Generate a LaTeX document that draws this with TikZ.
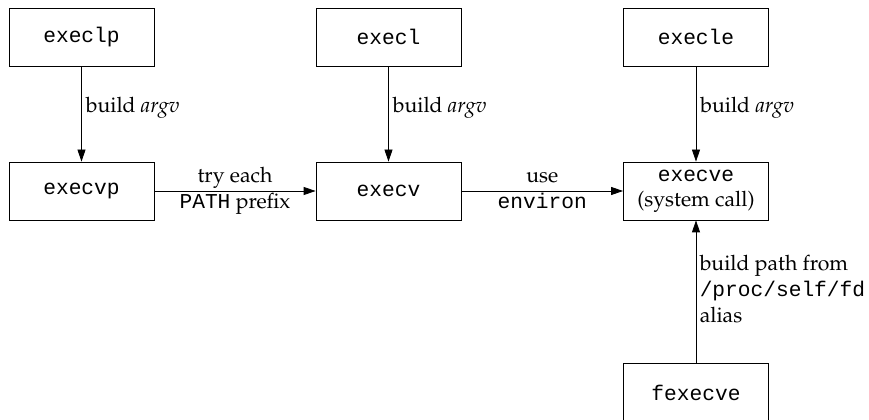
\documentclass[tikz,border=0pt]{standalone}
\usepackage{fontspec}
\usepackage[T1]{fontenc}
\usepackage{mathpazo}
\newfontfamily\codefont{Liberation Mono}
\usetikzlibrary{arrows.meta}
\usetikzlibrary{positioning}

\tikzset{
	fnbox/.style={draw, line width=0.6pt, minimum width=108.75pt, minimum height=43.5pt, inner sep=0pt, font=\fontsize{15.9}{19.5}\codefont},
	callarrow/.style={line width=0.6pt, -{Triangle[length=9pt,width=6pt]}},
	uplbl/.style={anchor=base, inner sep=0pt, yshift=6pt},
	lowlbl/.style={anchor=base, inner sep=0pt, yshift=-12.8pt},
	sidelbl/.style={anchor=base west, inner sep=0pt, xshift=3pt, yshift=0.75pt},
	noteline/.style={anchor=base west, inner sep=0pt}
}
\newcommand{\code}[1]{{\codefont #1}}

\begin{document}
\begin{tikzpicture}[x=0.75pt,y=-0.75pt,font=\fontsize{15.9}{19.5}\selectfont]
	\useasboundingbox (0,0) rectangle (869,420);

	% top row
	\node[fnbox] (execlp) at (81.5,37) {execlp};
	\node[fnbox] (execl) at (388.5,37) {execl};
	\node[fnbox] (execle) at (696,37) {execle};

	% middle row
	\node[fnbox] (execvp) at (81.5,191) {execvp};
	\node[fnbox] (execv) at (388.5,191) {execv};
	\node[fnbox, align=center] (execve) at (696,191) {execve\\[-0.5pt]\rmfamily (system call)};

	% bottom
	\node[fnbox] (fexecve) at (696,392.5) {fexecve};

	\draw[callarrow] (execlp) -- node[sidelbl]{build \textit{argv}} (execvp);
	\draw[callarrow] (execl) -- node[sidelbl]{build \textit{argv}} (execv);
	\draw[callarrow] (execle) -- node[sidelbl]{build \textit{argv}} (execve);

	\draw[callarrow] (execvp) -- node[uplbl]{try each} node[lowlbl]{\code{PATH} prefix} (execv);
	\draw[callarrow] (execv) -- node[uplbl]{use} node[lowlbl]{\code{environ}} (execve);

	\draw[callarrow] (fexecve) -- (execve);
	\node[noteline] (note1) at (699.5,270.5) {build path from};
	\node[noteline] (note2) at (699.5,296.5) {\code{/proc/self/fd}};
	\node[noteline] (note3) at (699.5,323) {alias};
\end{tikzpicture}
\end{document}
